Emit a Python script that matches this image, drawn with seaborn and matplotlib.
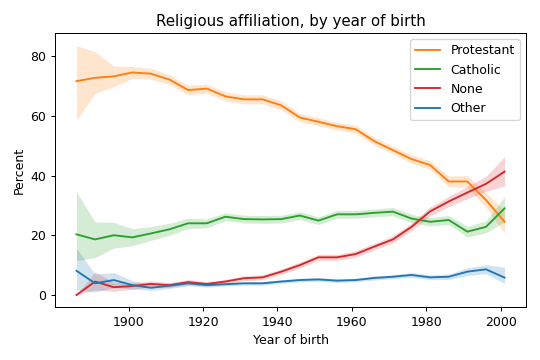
import numpy as np
import pandas as pd
import matplotlib
matplotlib.use('Agg')
import matplotlib.pyplot as plt
import seaborn as sns

# birth cohorts (5-year groups)
years = list(range(1886, 2002, 5))

protestant = [71.6, 72.7, 73.2, 74.5, 74.1, 72.1, 68.6, 69.1, 66.5, 65.5, 65.5, 63.5,
              59.4, 58.0, 56.5, 55.5, 51.5, 48.5, 45.5, 43.5, 38.0, 38.0, 31.8, 24.5]
protestant_lo = [58.5, 67.5, 69.7, 72.5, 72.3, 70.5, 67.0, 67.6, 65.0, 64.0, 64.0, 62.0,
                 58.0, 56.7, 55.2, 54.2, 50.2, 47.2, 44.1, 42.0, 36.2, 36.0, 29.3, 20.8]
protestant_hi = [83.5, 81.4, 76.7, 76.5, 75.9, 73.7, 70.2, 70.6, 68.0, 67.0, 67.0, 65.0,
                 60.8, 59.3, 57.8, 56.8, 52.8, 49.8, 46.9, 45.0, 39.8, 40.0, 34.3, 28.2]

catholic = [20.3, 18.6, 20.0, 19.3, 20.6, 22.0, 24.0, 24.0, 26.2, 25.4, 25.3, 25.4,
            26.6, 24.9, 27.0, 27.0, 27.5, 27.9, 25.6, 24.5, 25.1, 21.2, 22.8, 29.0]
catholic_lo = [11.5, 12.5, 15.7, 16.5, 18.3, 20.0, 22.3, 22.5, 24.9, 24.1, 24.0, 24.1,
               25.3, 23.6, 25.7, 25.7, 26.2, 26.5, 24.2, 23.1, 23.6, 19.4, 20.8, 24.5]
catholic_hi = [34.5, 24.5, 24.3, 22.2, 22.9, 24.0, 25.7, 25.5, 27.5, 26.7, 26.6, 26.7,
               27.9, 26.2, 28.3, 28.3, 28.8, 29.3, 27.0, 25.9, 26.6, 23.0, 24.8, 32.9]

none = [0.0, 4.5, 2.6, 3.0, 3.7, 3.3, 4.3, 3.7, 4.5, 5.6, 5.9, 7.8,
        10.0, 12.6, 12.6, 13.7, 16.2, 18.6, 22.8, 28.0, 31.3, 34.3, 37.2, 41.3]
none_lo = [0.0, 1.7, 1.2, 1.9, 2.7, 2.5, 3.4, 3.0, 3.8, 4.8, 5.1, 6.9,
           9.0, 11.6, 11.6, 12.6, 15.1, 17.4, 21.5, 26.5, 29.6, 32.3, 34.7, 36.5]
none_hi = [0.0, 7.8, 4.2, 4.1, 4.7, 4.1, 5.2, 4.4, 5.2, 6.4, 6.7, 8.7,
           11.0, 13.6, 13.6, 14.8, 17.3, 19.8, 24.1, 29.5, 33.0, 36.3, 39.7, 46.3]

other = [8.1, 3.9, 5.0, 3.3, 2.4, 3.1, 3.9, 3.3, 3.6, 3.9, 3.9, 4.5,
         5.0, 5.2, 4.8, 5.0, 5.7, 6.1, 6.7, 5.9, 6.1, 7.8, 8.6, 5.8]
other_lo = [1.7, 1.0, 2.5, 2.0, 1.5, 2.2, 3.1, 2.6, 3.0, 3.3, 3.3, 3.9,
            4.4, 4.6, 4.2, 4.4, 5.0, 5.4, 5.9, 5.1, 5.2, 6.5, 7.1, 3.9]
other_hi = [15.6, 7.0, 7.5, 4.8, 3.5, 4.0, 4.7, 4.0, 4.2, 4.5, 4.5, 5.1,
            5.6, 5.8, 5.4, 5.6, 6.4, 6.8, 7.5, 6.7, 7.0, 9.1, 10.1, 9.3]

series = [
    ('Protestant', protestant, protestant_lo, protestant_hi, 'C1'),
    ('Catholic', catholic, catholic_lo, catholic_hi, 'C2'),
    ('None', none, none_lo, none_hi, 'C3'),
    ('Other', other, other_lo, other_hi, 'C0'),
]

fig, ax = plt.subplots(figsize=(6, 4), dpi=90)
fig.subplots_adjust(left=0.102, right=0.974, top=0.908, bottom=0.146)

for label, mid, lo, hi, color in series:
    df = pd.DataFrame({'year': years, 'percent': mid})
    sns.lineplot(data=df, x='year', y='percent', color=color, label=label, ax=ax)
    ax.fill_between(years, lo, hi, color=color, alpha=0.2, linewidth=0)

ax.set_title('Religious affiliation, by year of birth')
ax.set_xlabel('Year of birth')
ax.set_ylabel('Percent')
ax.legend(loc='upper right')

fig.savefig('out.png', dpi=90)
